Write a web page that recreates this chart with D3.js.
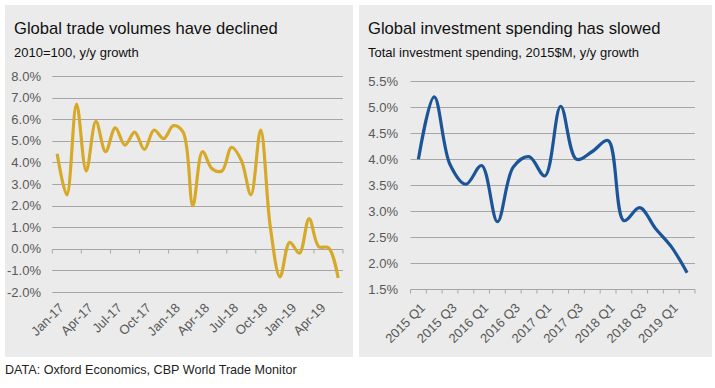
<!DOCTYPE html>
<html>
<head>
	<title>trade and investment</title>
	<script src="https://cdn.jsdelivr.net/npm/d3@7/dist/d3.min.js"></script>
	<style>
		body { margin: 0; background: #fff; }
		text { font-family: "Liberation Sans", Arial, sans-serif; }
	</style>
</head>
<body>
	<script type="text/javascript">

		// left chart data, monthly y/y growth (%)
		var months = ["Jan-17","Feb-17","Mar-17","Apr-17","May-17","Jun-17","Jul-17","Aug-17","Sep-17","Oct-17","Nov-17","Dec-17",
			"Jan-18","Feb-18","Mar-18","Apr-18","May-18","Jun-18","Jul-18","Aug-18","Sep-18","Oct-18","Nov-18","Dec-18",
			"Jan-19","Feb-19","Mar-19","Apr-19","May-19","Jun-19"];
		var tradeGrowth = [4.4, 2.5, 6.7, 3.6, 5.9, 4.5, 5.6, 4.8, 5.4, 4.6, 5.5, 5.1,
			5.7, 5.4, 2.0, 4.5, 3.7, 3.6, 4.7, 4.1, 2.5, 5.5, 1.0, -1.3,
			0.3, -0.2, 1.4, 0.1, 0.05, -1.35];
		var tradeTicks = [-2, -1, 0, 1, 2, 3, 4, 5, 6, 7, 8];

		// right chart data, quarterly y/y growth (%)
		var quarters = ["2015 Q1","2015 Q2","2015 Q3","2015 Q4","2016 Q1","2016 Q2","2016 Q3","2016 Q4",
			"2017 Q1","2017 Q2","2017 Q3","2017 Q4","2018 Q1","2018 Q2","2018 Q3","2018 Q4","2019 Q1","2019 Q2"];
		var investGrowth = [4.0, 5.2, 3.9, 3.52, 3.88, 2.8, 3.85, 4.05, 3.68, 5.02, 4.0, 4.15, 4.36, 2.82, 3.07, 2.67, 2.32, 1.82];
		var investTicks = [1.5, 2.0, 2.5, 3.0, 3.5, 4.0, 4.5, 5.0, 5.5];

		var svg = d3.select("body").append("svg")
			.attr("width", 715)
			.attr("height", 388);

		function panel(opt) {
			svg.append("rect")
				.attr("x", opt.px).attr("y", 5)
				.attr("width", opt.pw).attr("height", 352)
				.attr("fill", "#ebebeb");

			svg.append("text")
				.attr("x", opt.px + 9).attr("y", 34)
				.attr("font-size", 16.6).attr("fill", "#111")
				.text(opt.title);
			svg.append("text")
				.attr("x", opt.px + 9).attr("y", 57)
				.attr("font-size", 13).attr("fill", "#111")
				.text(opt.sub);

			var x = d3.scaleBand()
				.domain(opt.cats)
				.range(opt.xr);
			var y = d3.scaleLinear()
				.domain(opt.yd)
				.range(opt.yr);

			var g = svg.append("g");

			// gridlines
			g.selectAll("line.grid")
				.data(opt.ticks)
				.enter()
					.append("line")
					.attr("class", "grid")
					.attr("x1", opt.xr[0]).attr("x2", opt.xr[1])
					.attr("y1", function (d) { return Math.round(y(d)) + 0.5; })
					.attr("y2", function (d) { return Math.round(y(d)) + 0.5; })
					.attr("stroke", "#a6a6a6")
					.attr("stroke-width", 1);

			// y labels
			g.selectAll("text.ylab")
				.data(opt.ticks)
				.enter()
					.append("text")
					.attr("class", "ylab")
					.attr("x", opt.ylx)
					.attr("y", function (d) { return y(d); })
					.attr("dy", "0.36em")
					.attr("text-anchor", "end")
					.attr("font-size", 13)
					.attr("fill", "#595959")
					.text(function (d) { return d.toFixed(1) + "%"; });

			// category axis ticks
			var ay = Math.round(y(opt.axisAt)) + 0.5;
			var bounds = [];
			for (var i = 0; i <= opt.cats.length; i += opt.tickEvery) bounds.push(i);
			g.selectAll("line.tick")
				.data(bounds)
				.enter()
					.append("line")
					.attr("x1", function (d) { return opt.xr[0] + d * x.step(); })
					.attr("x2", function (d) { return opt.xr[0] + d * x.step(); })
					.attr("y1", ay).attr("y2", ay + 4)
					.attr("stroke", "#a6a6a6");

			// category labels
			var labs = opt.cats.filter(function (d, i) { return i % opt.labelEvery === 0; });
			g.selectAll("text.xlab")
				.data(labs)
				.enter()
					.append("text")
					.attr("text-anchor", "end")
					.attr("dy", "0.71em")
					.attr("font-size", 13)
					.attr("fill", "#595959")
					.attr("transform", function (d) {
						return "translate(" + (x(d) + x.bandwidth() / 2 + 1) + "," + 302 + ") rotate(-45)";
					})
					.text(function (d) { return d; });

			var line = d3.line()
				.x(function (d, i) { return x(opt.cats[i]) + x.bandwidth() / 2; })
				.y(function (d) { return y(d); })
				.curve(d3.curveCatmullRom.alpha(0.5));

			g.append("path")
				.datum(opt.values)
				.attr("d", line)
				.attr("fill", "none")
				.attr("stroke", opt.color)
				.attr("stroke-width", 3.2)
				.attr("stroke-linejoin", "round");
		}

		panel({
			px: 5, pw: 348,
			title: "Global trade volumes have declined",
			sub: "2010=100, y/y growth",
			cats: months, values: tradeGrowth, ticks: tradeTicks,
			xr: [52.3, 343], yd: [-2, 8], yr: [292, 76], ylx: 41,
			axisAt: 0, tickEvery: 3, labelEvery: 3,
			color: "#d6a929"
		});

		panel({
			px: 359, pw: 353,
			title: "Global investment spending has slowed",
			sub: "Total investment spending, 2015$M, y/y growth",
			cats: quarters, values: investGrowth, ticks: investTicks,
			xr: [410.5, 695], yd: [1.5, 5.5], yr: [289.3, 81.3], ylx: 398,
			axisAt: 1.5, tickEvery: 1, labelEvery: 2,
			color: "#1c5597"
		});

		svg.append("text")
			.attr("x", 5).attr("y", 374)
			.attr("font-size", 12.6).attr("fill", "#222")
			.text("DATA: Oxford Economics, CBP World Trade Monitor");

	</script>
</body>
</html>
